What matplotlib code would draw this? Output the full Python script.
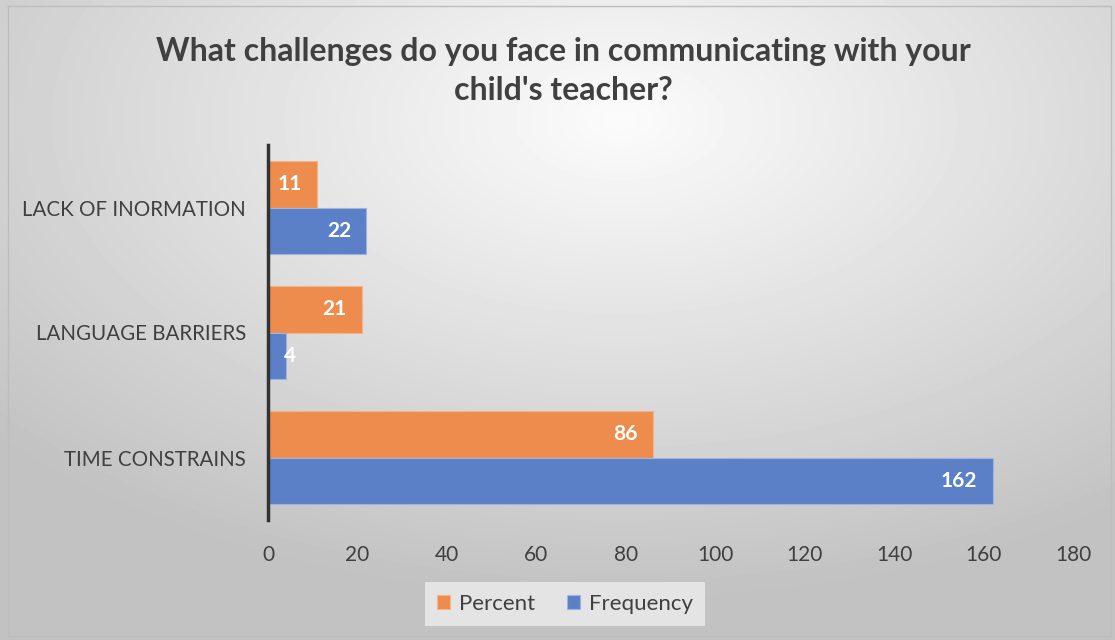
import numpy as np
import matplotlib.pyplot as plt

# data
categories = ["TIME CONSTRAINS", "LANGUAGE BARRIERS", "LACK OF INORMATION"]
percent = [86, 21, 11]
frequency = [162, 4, 22]
xticks = [0, 20, 40, 60, 80, 100, 120, 140, 160, 180]

ORANGE = "#ed8c4c"
BLUE = "#5b80c7"
TXT = "#404040"

plt.rcParams['font.family'] = ['Lato', 'DejaVu Sans']

fig = plt.figure(figsize=(11.15, 6.4), dpi=100)

# radial gradient background
bg = fig.add_axes([0, 0, 1, 1], zorder=-1)
yy, xx = np.mgrid[0:640, 0:1115]
r = np.sqrt(((xx - 620) / 1115) ** 2 + ((yy - 120) / 640) ** 2)
shade = np.clip(0.985 - 0.30 * r, 0.76, 0.985)
bg.imshow(shade, cmap='gray', vmin=0, vmax=1, aspect='auto', extent=[0, 1115, 640, 0])
bg.plot([8, 1111, 1111, 8, 8], [6, 6, 636, 636, 6], color="#bdbdbd", lw=1)
bg.set_xlim(0, 1115)
bg.set_ylim(640, 0)
bg.axis('off')

ax = fig.add_axes([268 / 1115, 1 - 520 / 640, 805 / 1115, 375 / 640])
ax.patch.set_alpha(0)

y = np.arange(len(categories))
h = 0.375
bp = ax.barh(y + h / 2, percent, h, color=ORANGE, edgecolor="#f4b48a", lw=0.8, label="Percent")
bf = ax.barh(y - h / 2, frequency, h, color=BLUE, edgecolor="#9db4e0", lw=0.8, label="Frequency")

for bars in (bp, bf):
    for b in bars:
        w = b.get_width()
        yc = b.get_y() + b.get_height() / 2
        if w < 8:
            ax.text(w - 0.4, yc, f"{w:g}", ha='left', va='center',
                    color='white', fontsize=15, fontweight='bold')
        else:
            ax.text(w - 3.4, yc, f"{w:g}", ha='right', va='center',
                    color='white', fontsize=15, fontweight='bold')

ax.set_xlim(0, 180)
ax.set_ylim(-0.5, 2.5)
ax.set_xticks(xticks)
ax.set_xticklabels([str(t) for t in xticks], fontsize=15, color=TXT)
ax.set_yticks(y)
ax.set_yticklabels(categories, fontsize=14.8, color=TXT)
ax.tick_params(length=0, pad=18, axis='x')
ax.tick_params(length=0, pad=16, axis='y')
for s in ['top', 'right', 'bottom']:
    ax.spines[s].set_visible(False)
ax.spines['left'].set_color("#333333")
ax.spines['left'].set_linewidth(2.5)

fig.text(0.505, 1 - 71 / 640, "What challenges do you face in communicating with your\nchild's teacher?",
         ha='center', va='center', fontsize=23, fontweight='bold', color=TXT, linespacing=1.42)

leg = fig.legend(handles=[bp, bf], loc='center', bbox_to_anchor=(565 / 1115, 1 - 604 / 640),
                 ncol=2, frameon=True, fontsize=16, handlelength=0.6, handleheight=0.6,
                 columnspacing=1.4, handletextpad=0.4, borderpad=0.55, fancybox=False)
leg.get_frame().set_facecolor("#e4e4e4")
leg.get_frame().set_edgecolor("none")
leg.get_frame().set_alpha(1)
for t in leg.get_texts():
    t.set_color(TXT)

fig.savefig("out.png", dpi=100)
